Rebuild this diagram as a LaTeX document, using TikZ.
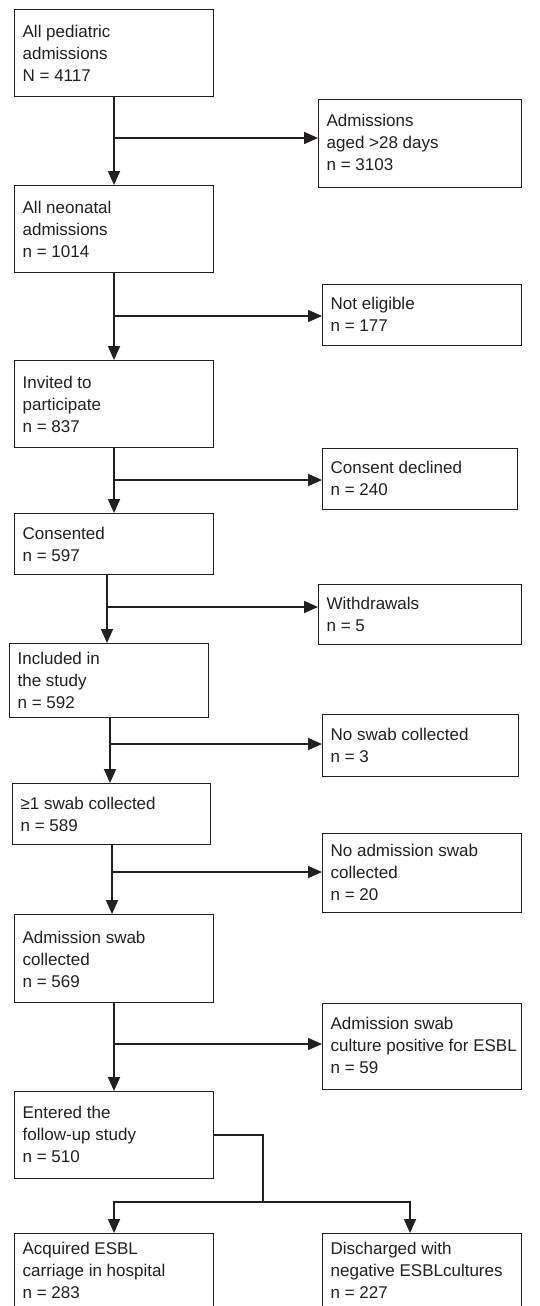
\documentclass[tikz,border=0pt]{standalone}
\usepackage{fontspec}
\setmainfont{Liberation Sans}
\usetikzlibrary{arrows.meta}
\definecolor{ink}{HTML}{231F20}
\newcommand\bt[4]{\parbox[c][#2pt][t]{#1pt}{\raggedright\leftskip=8pt\rule{0pt}{#3pt}#4}}
\tikzset{
  box/.style={draw=ink, line width=1.3pt, inner sep=0pt, anchor=north west, text=ink, font=\fontsize{17}{22}\selectfont},
  conn/.style={draw=ink, line width=1.9pt},
  hconn/.style={draw=ink, line width=1.5pt},
  arr/.style={conn, -{Triangle[length=14pt,width=12pt]}},
  harr/.style={hconn, -{Triangle[length=14pt,width=12pt]}},
}
\begin{document}
\begin{tikzpicture}[x=1pt,y=-1pt]
\useasboundingbox (0,0) rectangle (539,1306);
\clip (0,0) rectangle (539,1306);
\fill[white] (0,0) rectangle (539,1306);
% boxes
\node[box] (all) at (14,9) {\bt{199}{87}{28}{All pediatric\\admissions\\N = 4117}};
\node[box] (aged) at (318,99) {\bt{203}{88}{27}{Admissions\\aged >28 days\\n = 3103}};
\node[box] (neo) at (14,185) {\bt{199}{87}{28}{All neonatal\\admissions\\n = 1014}};
\node[box] (nel) at (322,284) {\bt{199}{61}{25}{Not eligible\\n = 177}};
\node[box] (inv) at (14,360) {\bt{199}{87}{28}{Invited to\\participate\\n = 837}};
\node[box] (dec) at (322,448) {\bt{195}{61}{25}{Consent declined\\n = 240}};
\node[box] (con) at (14,513) {\bt{199}{61}{26}{Consented\\n = 597}};
\node[box] (wd) at (318,584) {\bt{203}{60}{25}{Withdrawals\\n = 5}};
\node[box] (inc) at (9,643) {\bt{199}{74}{21}{Included in\\the study\\n = 592}};
\node[box] (nsw) at (322,714) {\bt{196}{62}{26}{No swab collected\\n = 3}};
\node[box] (sw1) at (12,783) {\bt{198}{61}{26}{≥1 swab collected\\n = 589}};
\node[box] (nad) at (322,833) {\bt{199}{79}{23}{No admission swab\\collected\\n = 20}};
\node[box] (ads) at (14,914) {\bt{199}{88}{29}{Admission swab\\collected\\n = 569}};
\node[box] (pos) at (322,1003) {\bt{199}{86}{26}{Admission swab\\culture positive for ESBL\\n = 59}};
\node[box] (ent) at (14,1091) {\bt{199}{87}{27}{Entered the\\follow-up study\\n = 510}};
\node[box] (acq) at (14,1233) {\bt{199}{85}{21}{Acquired ESBL\\carriage in hospital\\n = 283}};
\node[box] (dis) at (322,1233) {\bt{199}{85}{21}{Discharged with\\negative ESBLcultures\\n = 227}};
% branch points
\coordinate (b1) at (114,138);
\coordinate (b2) at (114,316);
\coordinate (b3) at (114,480);
\coordinate (b4) at (107,607);
\coordinate (b5) at (110,744);
\coordinate (b6) at (112,872);
\coordinate (b7) at (114,1044);
% main flow
\draw[arr] (all.south -| b1) -- (neo.north -| b1);
\draw[arr] (neo.south -| b2) -- (inv.north -| b2);
\draw[arr] (inv.south -| b3) -- (con.north -| b3);
\draw[arr] (con.south -| b4) -- (inc.north -| b4);
\draw[arr] (inc.south -| b5) -- (sw1.north -| b5);
\draw[arr] (sw1.south -| b6) -- (ads.north -| b6);
\draw[arr] (ads.south -| b7) -- (ent.north -| b7);
% exclusions
\draw[harr] (b1) -- (aged.west |- b1);
\draw[harr] (b2) -- (nel.west |- b2);
\draw[harr] (b3) -- (dec.west |- b3);
\draw[harr] (b4) -- (wd.west |- b4);
\draw[harr] (b5) -- (nsw.west |- b5);
\draw[harr] (b6) -- (nad.west |- b6);
\draw[harr] (b7) -- (pos.west |- b7);
% fork
\coordinate (fk) at (263,1202);
\coordinate (fl) at (114,1202);
\coordinate (fr) at (410,1202);
\draw[hconn] (ent.east) -| (fk);
\draw[conn, line cap=rect] (fl) -- (fr);
\draw[arr] (fl) -- (acq.north -| fl);
\draw[arr] (fr) -- (dis.north -| fr);
\end{tikzpicture}
\end{document}
